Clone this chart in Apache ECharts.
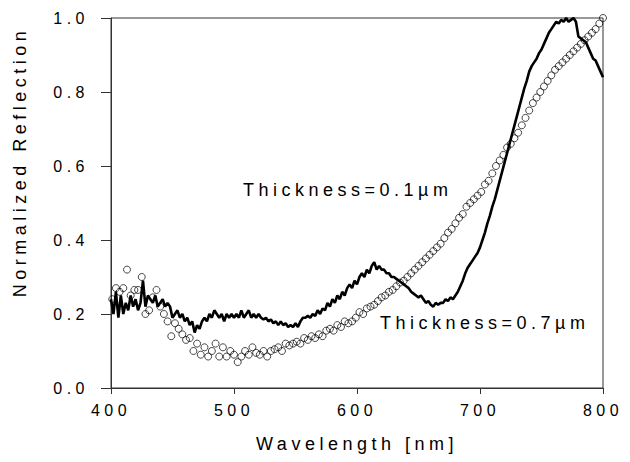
<!DOCTYPE html>
<html>
<head>
<meta charset="utf-8">
<script src="https://cdn.jsdelivr.net/npm/echarts@6/dist/echarts.min.js"></script>
<style>
  html, body { margin: 0; padding: 0; background: #fff; }
  #chart { width: 630px; height: 462px; }
  #chart svg text { letter-spacing: 4.5px; }
</style>
</head>
<body>
<div id="chart"></div>
<script>
// wavelength sampling of the two curves (nm)
const solidStart = 400, solidStep = 2;
const circStart = 401, circStep = 3;

// Thickness = 0.7 um (solid line)
const solidVals = [
  0.24, 0.20, 0.26, 0.19, 0.25, 0.20, 0.23, 0.21, 0.25, 0.22,
  0.24, 0.21, 0.23, 0.29, 0.22, 0.25, 0.24, 0.23, 0.25, 0.22,
  0.23, 0.24, 0.22, 0.23, 0.22, 0.19, 0.20, 0.21, 0.19, 0.20,
  0.18, 0.19, 0.17, 0.18, 0.15, 0.17, 0.16, 0.18, 0.19, 0.18,
  0.20, 0.19, 0.21, 0.20, 0.19, 0.20, 0.18, 0.20, 0.19, 0.20,
  0.19, 0.20, 0.19, 0.21, 0.19, 0.20, 0.21, 0.19, 0.20, 0.19,
  0.20, 0.19, 0.185, 0.19, 0.18, 0.185, 0.175, 0.18, 0.17, 0.18,
  0.17, 0.175, 0.165, 0.17, 0.165, 0.175, 0.165, 0.18, 0.19, 0.19,
  0.195, 0.19, 0.20, 0.195, 0.21, 0.20, 0.215, 0.21, 0.23, 0.22,
  0.24, 0.23, 0.25, 0.24, 0.26, 0.25, 0.27, 0.28, 0.27, 0.29,
  0.28, 0.30, 0.31, 0.30, 0.32, 0.31, 0.33, 0.34, 0.32, 0.33,
  0.32, 0.32, 0.31, 0.31, 0.30, 0.30, 0.295, 0.29, 0.285, 0.28,
  0.275, 0.27, 0.26, 0.255, 0.25, 0.245, 0.25, 0.24, 0.23, 0.235,
  0.225, 0.22, 0.23, 0.225, 0.23, 0.23, 0.24, 0.235, 0.245, 0.24,
  0.25, 0.26, 0.275, 0.29, 0.31, 0.325, 0.335, 0.345, 0.355, 0.365,
  0.38, 0.40, 0.42, 0.445, 0.465, 0.49, 0.51, 0.535, 0.56, 0.585,
  0.61, 0.635, 0.66, 0.685, 0.71, 0.735, 0.76, 0.785, 0.81, 0.83,
  0.855, 0.87, 0.88, 0.89, 0.905, 0.915, 0.93, 0.945, 0.96, 0.97,
  0.98, 0.99, 0.985, 0.995, 0.99, 1.0, 0.99, 0.995, 1.0, 0.99,
  0.95, 0.945, 0.94, 0.935, 0.92, 0.905, 0.89, 0.885, 0.87, 0.855,
  0.84
];

// Thickness = 0.1 um (open circles)
const circVals = [
  0.24, 0.27, 0.26, 0.27, 0.32, 0.25, 0.265, 0.265, 0.30, 0.20,
  0.21, 0.245, 0.265, 0.22, 0.20, 0.18, 0.14, 0.175, 0.16, 0.145,
  0.13, 0.135, 0.10, 0.12, 0.09, 0.11, 0.085, 0.10, 0.12, 0.085,
  0.11, 0.085, 0.10, 0.09, 0.07, 0.085, 0.10, 0.09, 0.11, 0.095,
  0.09, 0.10, 0.085, 0.10, 0.105, 0.11, 0.10, 0.12, 0.115, 0.12,
  0.125, 0.12, 0.135, 0.13, 0.14, 0.135, 0.145, 0.14, 0.155, 0.16,
  0.155, 0.17, 0.165, 0.18, 0.175, 0.18, 0.19, 0.205, 0.20, 0.215,
  0.22, 0.225, 0.235, 0.245, 0.25, 0.26, 0.265, 0.275, 0.285, 0.29,
  0.30, 0.31, 0.32, 0.33, 0.34, 0.35, 0.36, 0.37, 0.38, 0.39,
  0.405, 0.42, 0.43, 0.445, 0.46, 0.47, 0.49, 0.50, 0.51, 0.52,
  0.53, 0.55, 0.56, 0.58, 0.60, 0.615, 0.63, 0.65, 0.66, 0.675,
  0.69, 0.71, 0.73, 0.75, 0.77, 0.785, 0.80, 0.815, 0.83, 0.845,
  0.86, 0.87, 0.88, 0.89, 0.90, 0.91, 0.92, 0.93, 0.94, 0.95,
  0.96, 0.97, 0.985, 1.0
];

const xTitle = 'Wavelength [nm]';
const yTitle = 'Normalized Reflection';
const label01 = 'Thickness=0.1µm';
const label07 = 'Thickness=0.7µm';

const solidData = solidVals.map((v, i) => [solidStart + i * solidStep, v]);
const circData = circVals.map((v, i) => [circStart + i * circStep, v]);

const font = '"Liberation Sans", Arial, sans-serif';

let chart = echarts.init(document.getElementById('chart'), null, { renderer: 'svg' });
chart.setOption({
  animation: false,
  backgroundColor: '#fff',
  grid: {
    left: 111, right: 27, top: 18, bottom: 74,
    show: true, borderColor: '#333', borderWidth: 1
  },
  xAxis: {
    type: 'value', min: 400, max: 800, interval: 100,
    name: xTitle, nameLocation: 'middle', nameGap: 47,
    nameTextStyle: { fontFamily: font, fontSize: 18, color: '#000' },
    axisLine: { lineStyle: { color: '#333', width: 1 } },
    axisTick: { inside: false, length: 6, lineStyle: { color: '#333' } },
    axisLabel: { margin: 14, fontFamily: font, fontSize: 16, color: '#000' },
    splitLine: { show: false }
  },
  yAxis: {
    type: 'value', min: 0, max: 1, interval: 0.2,
    axisLine: { show: true, lineStyle: { color: '#333', width: 1 } },
    axisTick: { show: true, inside: false, length: 10, lineStyle: { color: '#333' } },
    axisLabel: {
      margin: 22, fontFamily: font, fontSize: 16, color: '#000',
      formatter: v => v.toFixed(1)
    },
    splitLine: { show: false }
  },
  graphic: [
    {
      type: 'text', x: 20, y: 162, rotation: Math.PI / 2,
      style: {
        text: yTitle, fill: '#000', font: '18px ' + font,
        textAlign: 'center', textVerticalAlign: 'middle'
      }
    },
    {
      type: 'text', left: 243, top: 181,
      style: { text: label01, fill: '#000', font: '18px ' + font }
    },
    {
      type: 'text', left: 380, top: 314,
      style: { text: label07, fill: '#000', font: '18px ' + font }
    }
  ],
  series: [
    {
      name: label07,
      type: 'line',
      data: solidData,
      showSymbol: false,
      lineStyle: { color: '#000', width: 2.6 },
      z: 2
    },
    {
      name: label01,
      type: 'scatter',
      data: circData,
      symbol: 'circle',
      symbolSize: 7,
      itemStyle: { color: 'rgba(255,255,255,0)', borderColor: '#000', borderWidth: 0.9 },
      z: 3
    }
  ]
});
</script>
</body>
</html>
